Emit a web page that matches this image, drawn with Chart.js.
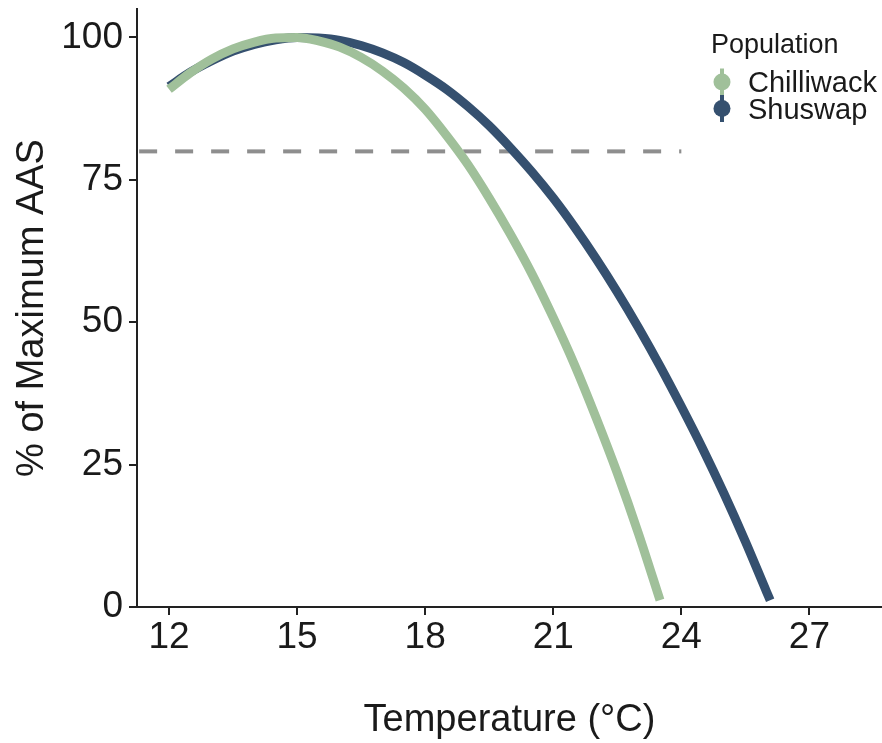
<!DOCTYPE html>
<html>
<head>
<meta charset="utf-8">
<script src="https://cdn.jsdelivr.net/npm/chart.js@4/dist/chart.umd.min.js"></script>
<style>
  body { margin: 0; background: #fff; }
  #wrap { width: 882px; height: 743px; }
</style>
</head>
<body>
<div id="wrap"><canvas id="aasChart"></canvas></div>
<script>
// values (every 0.5 °C)
const chilliwackTemp = [12, 12.5, 13, 13.5, 14, 14.5, 15, 15.5, 16, 16.5, 17, 17.5, 18, 18.5, 19, 19.5, 20, 20.5, 21, 21.5, 22, 22.5, 23, 23.5]
const chilliwackAAS = [90.9, 93.8, 96.2, 98.0, 99.2, 99.9, 100.0, 99.4, 98.3, 96.5, 94.1, 91.1, 87.4, 82.8, 77.7, 71.8, 65.4, 58.5, 50.8, 42.5, 33.3, 23.5, 12.8, 1.2]

const shuswapTemp = [12, 12.5, 13, 13.5, 14, 14.5, 15, 15.5, 16, 16.5, 17, 17.5, 18, 18.5, 19, 19.5, 20, 20.5, 21, 21.5, 22, 22.5, 23, 23.5, 24, 24.5, 25, 25.5, 26, 26.08]
const shuswapAAS = [91.4, 93.9, 95.9, 97.6, 98.8, 99.6, 100.0, 99.9, 99.5, 98.6, 97.3, 95.6, 93.4, 90.9, 87.9, 84.5, 80.6, 76.4, 71.8, 66.7, 61.2, 55.3, 49.0, 42.3, 35.2, 27.8, 19.9, 11.5, 2.6, 1.2]

const thresholdTemp = [11.3, 24]
const thresholdAAS = [80, 80]

const xTickValues = [12, 15, 18, 21, 24, 27]
const yTickValues = [0, 25, 50, 75, 100]

const legendTitle = 'Population'
const fontFamily = '"Liberation Sans", Arial, Helvetica, sans-serif'

function toPoints(xs, ys) {
    return xs.map((x, i) => ({ x: x, y: ys[i] }))
}

/**
 * @name noScalePadding
 * @description Keep Chart.js from reserving room for edge labels.
 */
function noScalePadding(scale) {
    scale.paddingTop = 0
    scale.paddingBottom = 0
    scale.paddingLeft = 0
    scale.paddingRight = 0
}

/**
 * @name populationLegend
 * @description Draws the ggplot-like legend inside the plot, top right.
 */
const populationLegend = {
    id: 'populationLegend',
    afterDraw(chart) {
        const ctx = chart.ctx
        ctx.save()
        ctx.fillStyle = '#1a1a1a'
        ctx.textAlign = 'left'
        ctx.textBaseline = 'middle'
        ctx.font = '27px ' + fontFamily
        ctx.fillText(legendTitle, 711, 46)

        ctx.font = '29px ' + fontFamily
        chart.data.datasets.slice(0, 2).forEach((ds, i) => {
            const cx = 722
            const cy = 82 + i * 26.5
            ctx.strokeStyle = ds.borderColor
            ctx.lineWidth = 4
            ctx.beginPath()
            ctx.moveTo(cx, cy - 13.5)
            ctx.lineTo(cx, cy + 13.5)
            ctx.stroke()
            ctx.fillStyle = ds.borderColor
            ctx.beginPath()
            ctx.arc(cx, cy, 8.5, 0, Math.PI * 2)
            ctx.fill()
            ctx.fillStyle = '#1a1a1a'
            ctx.fillText(ds.label, 748, cy + 2)
        })
        ctx.restore()
    },
}

Chart.defaults.font.family = fontFamily
Chart.defaults.color = '#1a1a1a'

const ctx = document.getElementById('aasChart').getContext('2d')
const aasChart = new Chart(ctx, {
    type: 'line',
    data: {
        datasets: [
            {
                label: 'Chilliwack',
                data: toPoints(chilliwackTemp, chilliwackAAS),
                borderColor: '#a0c09a',
                borderWidth: 9,
                pointRadius: 0,
                cubicInterpolationMode: 'monotone',
            },
            {
                label: 'Shuswap',
                data: toPoints(shuswapTemp, shuswapAAS),
                borderColor: '#35506f',
                borderWidth: 9,
                pointRadius: 0,
                cubicInterpolationMode: 'monotone',
            },
            {
                label: 'threshold',
                data: toPoints(thresholdTemp, thresholdAAS),
                borderColor: '#8e8e8e',
                borderWidth: 4,
                borderDash: [18, 18],
                pointRadius: 0,
            },
        ],
    },
    options: {
        responsive: true,
        maintainAspectRatio: false,
        animation: false,
        layout: { padding: { top: 9, left: 0, right: 0, bottom: 0 } },
        plugins: {
            legend: { display: false },
            tooltip: { enabled: false },
        },
        scales: {
            x: {
                type: 'linear',
                min: 11.25,
                max: 28.7,
                afterBuildTicks: (scale) => {
                    scale.ticks = xTickValues.map((v) => ({ value: v }))
                },
                afterFit: (scale) => {
                    scale.height = 136
                    noScalePadding(scale)
                },
                grid: {
                    drawOnChartArea: false,
                    drawTicks: true,
                    tickLength: 8,
                    color: '#222',
                    lineWidth: 2,
                },
                border: { display: true, color: '#222', width: 2 },
                ticks: {
                    font: { size: 37 },
                    padding: 1,
                    maxRotation: 0,
                },
                title: {
                    display: true,
                    text: 'Temperature (°C)',
                    font: { size: 38 },
                    padding: { top: 8, bottom: 0 },
                },
            },
            y: {
                min: 0,
                max: 105,
                afterBuildTicks: (scale) => {
                    scale.ticks = yTickValues.map((v) => ({ value: v }))
                },
                afterFit: (scale) => {
                    scale.width = 137
                    noScalePadding(scale)
                },
                grid: {
                    drawOnChartArea: false,
                    drawTicks: true,
                    tickLength: 8,
                    color: '#222',
                    lineWidth: 2,
                },
                border: { display: true, color: '#222', width: 2 },
                ticks: {
                    font: { size: 37 },
                    padding: 6,
                },
                title: {
                    display: true,
                    text: '% of Maximum AAS',
                    font: { size: 38 },
                    padding: { top: 10, bottom: 0 },
                },
            },
        },
    },
    plugins: [populationLegend],
})
</script>
</body>
</html>
